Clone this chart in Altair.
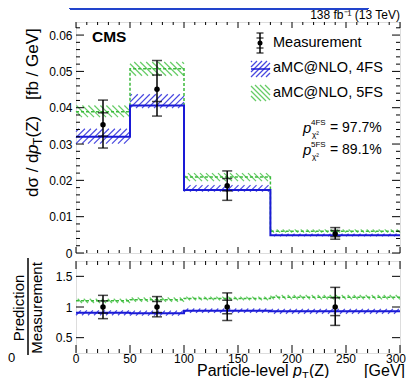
import altair as alt
import pandas as pd

# ---------------- data ----------------
bin_edges = [0, 50, 100, 180, 300]
bin_centers = [25, 75, 140, 240]

meas = [0.0353, 0.0451, 0.0185, 0.0053]
meas_tot_hi = [0.0421, 0.0530, 0.0226, 0.0070]
meas_tot_lo = [0.0289, 0.0377, 0.0145, 0.0038]
meas_stat_hi = [0.0386, 0.0490, 0.0205, 0.0062]
meas_stat_lo = [0.0322, 0.0417, 0.0171, 0.0045]

fs4 = [0.0320, 0.0406, 0.01735, 0.0049]
fs4_hi = [0.0342, 0.0437, 0.0187, 0.0053]
fs4_lo = [0.0301, 0.0399, 0.0169, 0.0046]

fs5 = [0.0389, 0.0507, 0.0209, 0.0060]
fs5_hi = [0.0406, 0.0526, 0.0220, 0.0065]
fs5_lo = [0.0374, 0.0488, 0.0198, 0.0056]

ratio_one = [1, 1, 1, 1]
ratio_tot_hi = [1.19, 1.17, 1.23, 1.32]
ratio_tot_lo = [0.81, 0.84, 0.78, 0.70]
ratio_stat_hi = [1.10, 1.09, 1.11, 1.15]
ratio_stat_lo = [0.90, 0.91, 0.89, 0.86]

r4 = [0.905, 0.90, 0.94, 0.93]
r4_hi = [0.945, 0.94, 0.975, 0.97]
r4_lo = [0.865, 0.86, 0.905, 0.89]
r5 = [1.10, 1.12, 1.14, 1.16]
r5_hi = [1.135, 1.155, 1.17, 1.195]
r5_lo = [1.065, 1.085, 1.11, 1.125]

top_yticks = [0, 0.01, 0.02, 0.03, 0.04, 0.05, 0.06]
top_yminor = [round(i * 0.002, 4) for i in range(32) if i % 5 != 0]
ratio_yticks = [0.5, 1, 1.5]
xticks = [0, 50, 100, 150, 200, 250, 300]
xminor = [v for v in range(10, 300, 10) if v % 50 != 0]

# ---------------- layout / style ----------------
W, HT, HB = 324, 231, 92
GAP = 8
XMAX = 300
YT = (0.0, 0.0636)
YB = (0.25, 1.75)
FONT = "Liberation Sans"
BLUE_LINE = "#1a1ad6"
BLUE_HATCH = "#4848e0"
GREEN_LINE = "#3cbb3c"
GREEN_HATCH = "#66cc66"

xs = alt.Scale(domain=[0, XMAX], nice=False, zero=False)
yts = alt.Scale(domain=list(YT), nice=False, zero=False)
ybs = alt.Scale(domain=list(YB), nice=False, zero=False)

yaxis_top = alt.Axis(values=top_yticks, format="~g", ticks=False, domain=False, grid=False,
                     labelFontSize=12, labelPadding=4, title=None, labelFlush=False,
                     labelOverlap=False, labelColor="black")
yaxis_bot = alt.Axis(values=ratio_yticks, format="~g", ticks=False, domain=False, grid=False,
                     labelFontSize=12, labelPadding=4, title=None, labelFlush=False,
                     labelOverlap=False, labelColor="black")


def enc_x(field, panel):
    return alt.X(f"{field}:Q", scale=xs, axis=None)


def enc_y(field, panel):
    if panel == "top":
        return alt.Y(f"{field}:Q", scale=yts, axis=yaxis_top)
    return alt.Y(f"{field}:Q", scale=ybs, axis=yaxis_bot)


def px_to_data(u, v_down, H, yr):
    """pixel (from plot top-left) -> data coordinates"""
    return u / W * XMAX, yr[1] - v_down / H * (yr[1] - yr[0])


def hatch_px(X0, X1, Vtop, Vbot, sign, step):
    """diagonal hatch segments in pixel space, inside rect [X0,X1]x[Vtop,Vbot] (v downwards)"""
    h = Vbot - Vtop
    segs = []
    k0 = int((X0 - h) // step) - 1
    k1 = int((X1 + h) // step) + 2
    for k in range(k0, k1):
        c = k * step
        if sign > 0:  # "/"
            vs, ve = max(0.0, X0 - c), min(h, X1 - c)
            if ve > vs:
                segs.append((c + vs, Vbot - vs, c + ve, Vbot - ve))
        else:  # "\"
            vs, ve = max(0.0, c - X1), min(h, c - X0)
            if ve > vs:
                segs.append((c - vs, Vbot - vs, c - ve, Vbot - ve))
    return segs


def band_hatch(lo, hi, H, yr, sign, step):
    rows = []
    for i in range(4):
        X0 = bin_edges[i] / XMAX * W
        X1 = bin_edges[i + 1] / XMAX * W
        Vtop = (yr[1] - hi[i]) / (yr[1] - yr[0]) * H
        Vbot = (yr[1] - lo[i]) / (yr[1] - yr[0]) * H
        for (a, b, c, d) in hatch_px(X0, X1, Vtop, Vbot, sign, step):
            x1, y1 = px_to_data(a, b, H, yr)
            x2, y2 = px_to_data(c, d, H, yr)
            rows.append({"x": x1, "y": y1, "x2": x2, "y2": y2})
    return pd.DataFrame(rows)


def rules(df, panel, color, width, dash=None):
    kw = dict(color=color, strokeWidth=width)
    if dash:
        kw["strokeDash"] = dash
    return alt.Chart(df).mark_rule(**kw).encode(
        x=enc_x("x", panel), x2="x2:Q", y=enc_y("y", panel), y2="y2:Q")


def step_line(vals, panel, color, width, dash=None):
    df = pd.DataFrame({"x": bin_edges, "y": vals + [vals[-1]]})
    kw = dict(color=color, strokeWidth=width, interpolate="step-after")
    if dash:
        kw["strokeDash"] = dash
    return alt.Chart(df).mark_line(**kw).encode(x=enc_x("x", panel), y=enc_y("y", panel))


def meas_layers(xv, val, tlo, thi, slo, shi, panel, cap=10, size=30):
    df = pd.DataFrame({"x": xv, "v": val, "tlo": tlo, "thi": thi, "slo": slo, "shi": shi})
    base = alt.Chart(df)
    out = [base.mark_rule(color="black", strokeWidth=1.5).encode(
        x=enc_x("x", panel), y=enc_y("tlo", panel), y2="thi:Q")]
    for f in ["tlo", "thi", "slo", "shi"]:
        out.append(base.mark_tick(color="black", orient="horizontal", size=cap, thickness=1.5).encode(
            x=enc_x("x", panel), y=enc_y(f, panel)))
    out.append(base.mark_circle(color="black", opacity=1, size=size).encode(
        x=enc_x("x", panel), y=enc_y("v", panel)))
    return out


def tick_layers(panel, H, ymaj, ymin_list, xmaj_len, xmin_len, ymaj_len, ymin_len):
    out = []
    dmaj = pd.DataFrame({"v": xticks})
    dmin = pd.DataFrame({"v": xminor})
    for d, L in [(dmaj, xmaj_len), (dmin, xmin_len)]:
        out.append(alt.Chart(d).mark_rule(color="black", strokeWidth=1).encode(
            x=enc_x("v", panel), y=alt.value(0), y2=alt.value(L)))
        out.append(alt.Chart(d).mark_rule(color="black", strokeWidth=1).encode(
            x=enc_x("v", panel), y=alt.value(H - L), y2=alt.value(H)))
    ylists = [(ymaj, ymaj_len)]
    if ymin_list:
        ylists.append((ymin_list, ymin_len))
    for lst, L in ylists:
        d = pd.DataFrame({"v": lst})
        out.append(alt.Chart(d).mark_rule(color="black", strokeWidth=1).encode(
            y=enc_y("v", panel), x=alt.value(0), x2=alt.value(L)))
        out.append(alt.Chart(d).mark_rule(color="black", strokeWidth=1).encode(
            y=enc_y("v", panel), x=alt.value(W - L), x2=alt.value(W)))
    return out


def txt(s, x, y, size, **kw):
    color = kw.pop("color", "black")
    return alt.Chart(pd.DataFrame({"t": [s]})).mark_text(
        fontSize=size, font=FONT, color=color, **kw).encode(
        x=alt.value(x), y=alt.value(y), text="t:N")


def vrule(x1, y1, x2, y2, color, width, dash=None):
    kw = dict(color=color, strokeWidth=width)
    if dash:
        kw["strokeDash"] = dash
    return alt.Chart(pd.DataFrame({"a": [0]})).mark_rule(**kw).encode(
        x=alt.value(x1), y=alt.value(y1), x2=alt.value(x2), y2=alt.value(y2))


def legend_hatch(X0, X1, V0, V1, sign, step, color):
    rows = []
    for (a, b, c, d) in hatch_px(X0, X1, V0, V1, sign, step):
        x1, y1 = px_to_data(a, b, HT, YT)
        x2, y2 = px_to_data(c, d, HT, YT)
        rows.append({"x": x1, "y": y1, "x2": x2, "y2": y2})
    return rules(pd.DataFrame(rows), "top", color, 1.2)


# ---------------- top panel ----------------
top_layers = [
    rules(band_hatch(fs5_lo, fs5_hi, HT, YT, -1, 6), "top", GREEN_HATCH, 1.2),
    rules(band_hatch(fs4_lo, fs4_hi, HT, YT, 1, 6), "top", BLUE_HATCH, 1.2),
    step_line(fs5, "top", GREEN_LINE, 1.5, [3, 2]),
    step_line(fs4, "top", BLUE_LINE, 2),
]
top_layers += meas_layers(bin_centers, meas, meas_tot_lo, meas_tot_hi, meas_stat_lo, meas_stat_hi, "top")
top_layers += tick_layers("top", HT, top_yticks, top_yminor, 6, 3, 8, 4)

# legend: measurement symbol (pixel positions converted to data)
lx, ly = px_to_data(184, 21, HT, YT)
_, l_tlo = px_to_data(0, 31, HT, YT)
_, l_thi = px_to_data(0, 11, HT, YT)
_, l_slo = px_to_data(0, 26, HT, YT)
_, l_shi = px_to_data(0, 16, HT, YT)
top_layers += meas_layers([lx], [ly], [l_tlo], [l_thi], [l_slo], [l_shi], "top", cap=7, size=25)

top_layers += [
    legend_hatch(175, 194, 39, 55, 1, 5, BLUE_HATCH),
    vrule(175, 47, 194, 47, BLUE_LINE, 1.5),
    legend_hatch(175, 194, 63, 79, -1, 5, GREEN_HATCH),
    txt("Measurement", 197, 21, 14.5, align="left", baseline="middle"),
    txt("aMC@NLO, 4FS", 197, 46, 14.5, align="left", baseline="middle"),
    txt("aMC@NLO, 5FS", 197, 71, 14.5, align="left", baseline="middle"),
    # p-values
    txt("p", 227, 106, 15, align="left", baseline="middle", fontStyle="italic"),
    txt("4FS", 235, 101, 8, align="left", baseline="middle"),
    txt("χ²", 236, 113, 8, align="left", baseline="middle"),
    txt("= 97.7%", 254, 106, 14, align="left", baseline="middle"),
    txt("p", 227, 128, 15, align="left", baseline="middle", fontStyle="italic"),
    txt("5FS", 235, 123, 8, align="left", baseline="middle"),
    txt("χ²", 236, 135, 8, align="left", baseline="middle"),
    txt("= 89.1%", 254, 128, 14, align="left", baseline="middle"),
    # CMS label and luminosity
    txt("CMS", 16, 15, 15.5, align="left", baseline="middle", fontWeight="bold"),
    txt("138 fb⁻¹ (13 TeV)", 324, -7, 12, align="right", baseline="middle"),
    # y-axis title pieces (rotated)
    txt("dσ / d", -43, 175, 17, align="left", baseline="middle", angle=270),
    txt("p", -43, 132, 17, align="left", baseline="middle", angle=270, fontStyle="italic"),
    txt("T", -38, 123, 12, align="left", baseline="middle", angle=270),
    txt("(Z)", -43, 115.5, 17, align="left", baseline="middle", angle=270),
    txt("[fb / GeV]", -43, 78, 17, align="left", baseline="middle", angle=270),
    # stray blue box at very top of the picture (clipped by the page edge)
    vrule(-6, -13, 292, -13, "#2244cc", 2),
    vrule(-6, -30, -6, -13, "#2244cc", 2),
    vrule(292, -30, 292, -13, "#2244cc", 2),
]

top = alt.layer(*top_layers).properties(width=W, height=HT)

# ---------------- ratio panel ----------------
bot_layers = [
    rules(band_hatch(r5_lo, r5_hi, HB, YB, -1, 6), "bot", GREEN_HATCH, 1.2),
    rules(band_hatch(r4_lo, r4_hi, HB, YB, 1, 6), "bot", BLUE_HATCH, 1.2),
    step_line(r5, "bot", GREEN_LINE, 1.5, [3, 2]),
    step_line(r4, "bot", BLUE_LINE, 2),
]
bot_layers += meas_layers(bin_centers, ratio_one, ratio_tot_lo, ratio_tot_hi, ratio_stat_lo, ratio_stat_hi, "bot")
bot_layers += tick_layers("bot", HB, ratio_yticks, None, 8, 4, 8, 4)

# x tick labels, placed through the x scale (last one nudged inside the page edge)
bot_layers += [
    alt.Chart(pd.DataFrame({"v": xticks[:-1]})).mark_text(
        fontSize=12, font=FONT, color="black", baseline="top").encode(
        x=enc_x("v", "bot"), y=alt.value(HB + 1), text="v:Q"),
    alt.Chart(pd.DataFrame({"v": xticks[-1:]})).mark_text(
        fontSize=12, font=FONT, color="black", baseline="top", dx=-4).encode(
        x=enc_x("v", "bot"), y=alt.value(HB + 1), text="v:Q"),
]

bot_layers += [
    # ratio y title
    txt("Prediction", -57, 47, 15, align="center", baseline="middle", angle=270),
    txt("Measurement", -39, 47, 15, align="center", baseline="middle", angle=270),
    vrule(-48, -3, -48, 94, "black", 1.5),
    # x-axis title pieces (alphabetic baseline)
    txt("Particle-level", 121, 115, 16, align="left", baseline="alphabetic"),
    txt("p", 217, 115, 16, align="left", baseline="alphabetic", fontStyle="italic"),
    txt("T", 226, 118.5, 11, align="left", baseline="alphabetic"),
    txt("(Z)", 233, 115, 16, align="left", baseline="alphabetic"),
    txt("[GeV]", 329, 115, 16, align="right", baseline="alphabetic"),
    # stray label from a neighbouring figure
    txt("0", -68, 97, 13, align="left", baseline="middle"),
]
bot = alt.layer(*bot_layers).properties(width=W, height=HB)

# svg size with autosize "none": 68+324+6 = 398 wide, 14+356 = 370 tall -> page fits 414x390
chart = alt.vconcat(top, bot, spacing=GAP, bounds="flush").configure_view(
    stroke="black", strokeWidth=1.5
).configure(font=FONT).properties(
    autosize=alt.AutoSizeParams(type="none"),
    padding={"left": 68, "top": 14, "right": 6, "bottom": 356},
)

chart.save("out.html", embed_options={"renderer": "svg", "actions": False})
